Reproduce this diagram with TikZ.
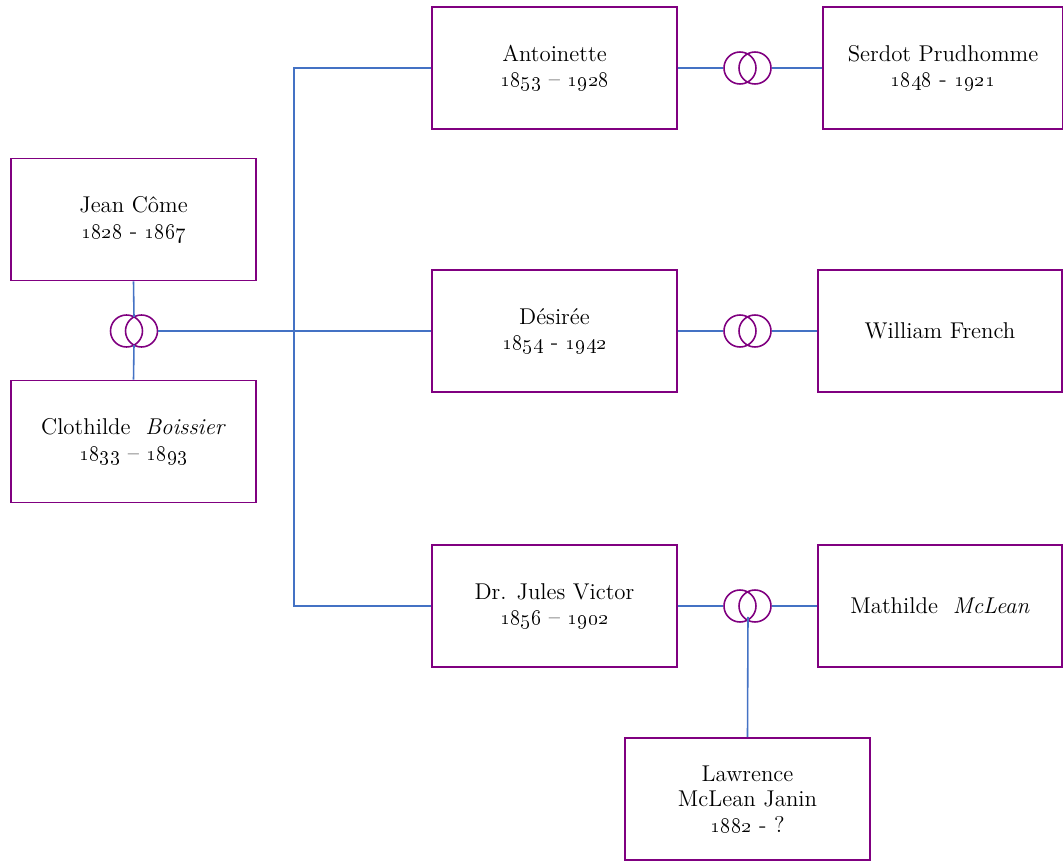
\documentclass[tikz,border=0pt]{standalone}
\usetikzlibrary{positioning,calc}
\definecolor{boxpurple}{RGB}{128,0,128}
\definecolor{lineblue}{RGB}{68,114,196}
\newcommand{\lifespan}[1]{\oldstylenums{#1}}
\tikzset{
    person/.style={draw=boxpurple, line width=1.1pt, minimum width=4.9cm,
        minimum height=2.44cm, inner sep=0pt, align=center,
        font=\fontsize{13}{14.5}\selectfont},
    ring/.style={draw=boxpurple, circle, line width=0.9pt, minimum size=0.64cm, inner sep=0pt},
    link/.style={draw=lineblue, line width=0.9pt},
}

\begin{document}
\begin{tikzpicture}[x=0.02cm, y=-0.02cm]
\useasboundingbox (0,0) rectangle (1063,861);

% parents
\node [person] (jean) at (133.5,219.5) {Jean C\^ome\\\lifespan{1828} - \lifespan{1867}};
\node [person] (clothilde) at (133.5,441.5) {Clothilde \ \textit{Boissier}\\\lifespan{1833} -- \lifespan{1893}};
\node [ring] (rpa) at (126.5,331) {};
\node [ring] (rpb) at (141.5,331) {};
\coordinate (rptop) at (134,317);
\coordinate (rpbot) at (134,345);
\draw [link] (jean.south) -- (rptop);
\draw [link] (rpbot) -- (clothilde.north);

% children
\node [person] (antoinette) at (554.5,68) {Antoinette\\\lifespan{1853} -- \lifespan{1928}};
\node [person] (desiree) at (554.5,331) {D\'esir\'ee\\\lifespan{1854} - \lifespan{1942}};
\node [person] (jules) at (554.5,606) {Dr. Jules Victor\\\lifespan{1856} -- \lifespan{1902}};

\coordinate (trunktop) at (294,68);
\coordinate (trunkbot) at (294,606);
\draw [link] (antoinette.west) -- (trunktop) -- (trunkbot) -- (jules.west);
\draw [link] (rpb.east) -- (desiree.west);

% spouses
\node [person, minimum width=4.8cm] (serdot) at (943,68) {Serdot Prudhomme\\\lifespan{1848} - \lifespan{1921}};
\node [person, minimum width=4.88cm] (william) at (940,331) {William French};
\node [person, minimum width=4.88cm] (mathilde) at (940,606) {Mathilde \ \textit{McLean}};

\node [ring] (raa) at (740,68) {};
\node [ring] (rab) at (755,68) {};
\draw [link] (antoinette.east) -- (raa.west);
\draw [link] (rab.east) -- (serdot.west);

\node [ring] (rda) at (740,331) {};
\node [ring] (rdb) at (755,331) {};
\draw [link] (desiree.east) -- (rda.west);
\draw [link] (rdb.east) -- (william.west);

\node [ring] (rja) at (740,606) {};
\node [ring] (rjb) at (755,606) {};
\draw [link] (jules.east) -- (rja.west);
\draw [link] (rjb.east) -- (mathilde.west);

% grandchild
\node [person] (lawrence) at (747.5,799) {Lawrence\\McLean Janin\\\lifespan{1882} - ?};
\coordinate (rjbot) at (748,617);
\draw [link] (rjbot) -- (lawrence.north);
\end{tikzpicture}
\end{document}
